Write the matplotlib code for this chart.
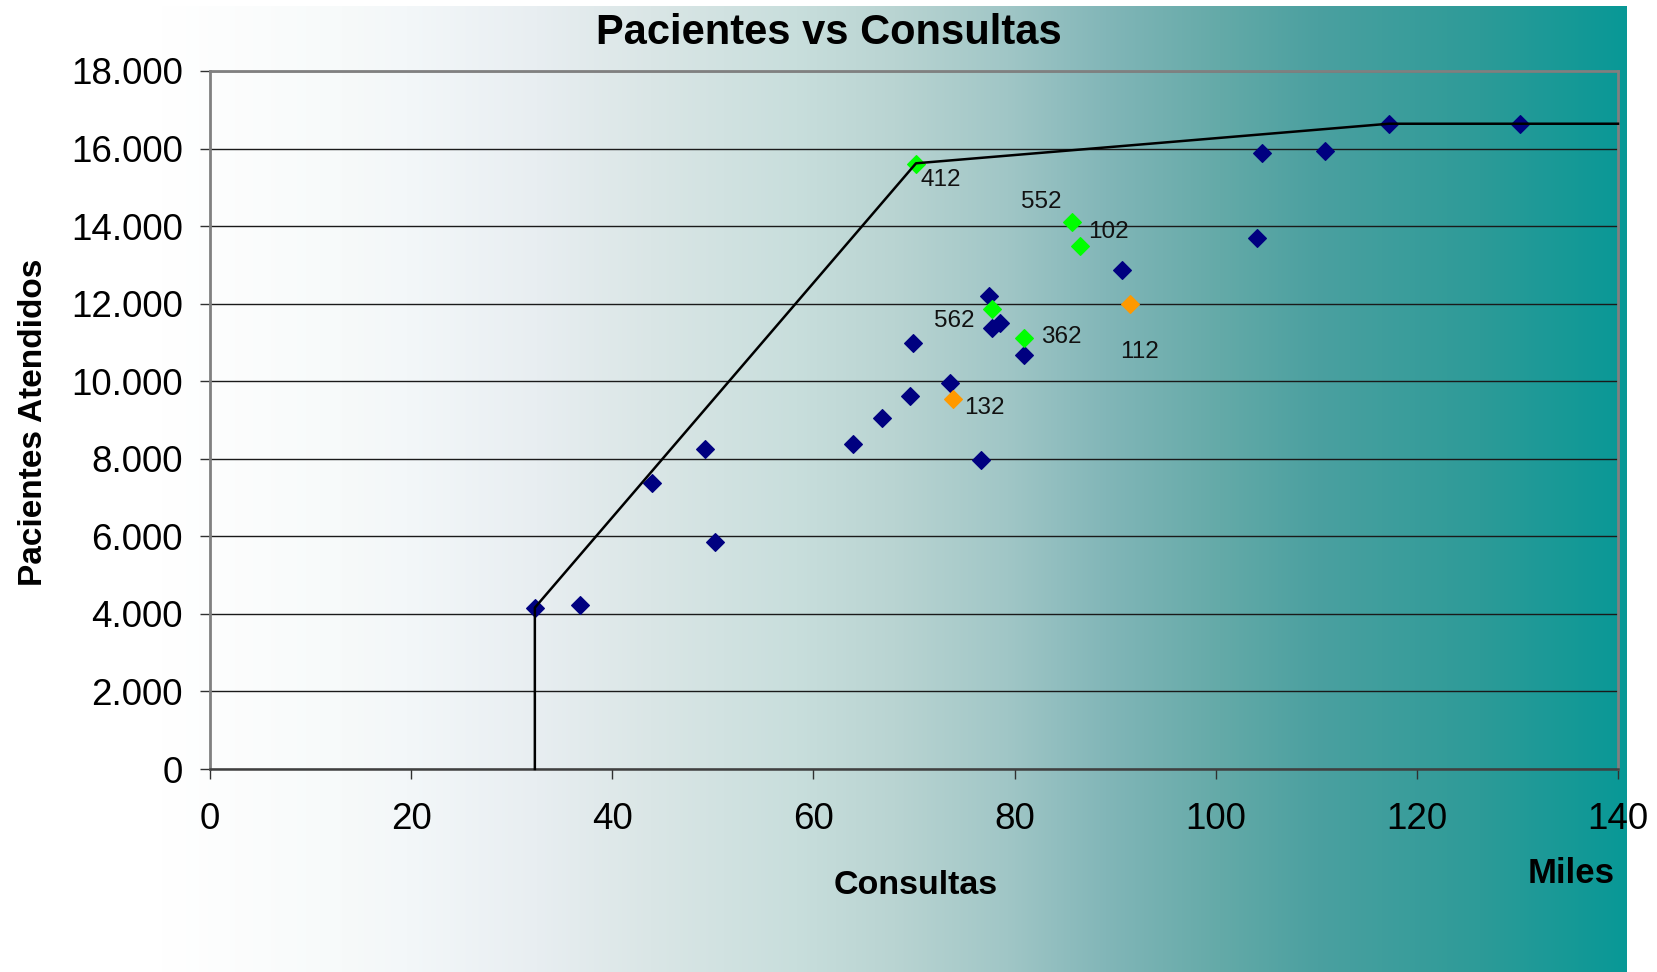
import numpy as np
import matplotlib
matplotlib.use("Agg")
import matplotlib.pyplot as plt
from matplotlib.ticker import FuncFormatter

plt.rcParams['font.family'] = ['Liberation Sans', 'DejaVu Sans']

# Consultas (miles) vs pacientes atendidos per unit
units_x = [32.3, 36.8, 43.9, 49.2, 50.2, 63.9, 66.8, 69.6, 69.9, 73.6, 76.7,
           77.5, 77.8, 78.6, 80.9, 90.7, 104.1, 104.6, 110.9, 117.2, 130.3]
units_y = [4160, 4230, 7370, 8240, 5860, 8380, 9060, 9610, 10980, 9950, 7970,
           12210, 11360, 11510, 10680, 12870, 13690, 15880, 15940, 16630, 16630]

# Highlighted units (green)
green_labels = ['412', '552', '102', '562', '362']
green_x = [70.2, 85.7, 86.5, 77.8, 80.9]
green_y = [15600, 14110, 13490, 11850, 11110]

# Highlighted units (orange)
orange_labels = ['112', '132']
orange_x = [91.5, 73.9]
orange_y = [11990, 9530]

# Efficiency frontier
frontier_x = [32.3, 32.3, 70.2, 117.2, 140.0]
frontier_y = [0, 4160, 15620, 16640, 16640]

x_ticks = [0, 20, 40, 60, 80, 100, 120, 140]
y_ticks = [0, 2000, 4000, 6000, 8000, 10000, 12000, 14000, 16000, 18000]

W, H = 1657, 972
fig = plt.figure(figsize=(W / 100, H / 100), dpi=100)
fig.patch.set_facecolor('white')

# Horizontal gradient background
stops = [
    (0.00, (255, 255, 255)),
    (0.10, (255, 255, 255)),
    (0.21, (247, 250, 250)),
    (0.25, (243, 247, 249)),
    (0.33, (232, 238, 241)),
    (0.40, (218, 230, 230)),
    (0.49, (200, 222, 220)),
    (0.55, (185, 212, 210)),
    (0.62, (160, 198, 198)),
    (0.68, (130, 182, 184)),
    (0.75, (100, 170, 168)),
    (0.81, (75, 160, 160)),
    (0.91, (45, 155, 152)),
    (1.00, (8, 152, 150)),
]
pos = np.array([s[0] for s in stops])
cols = np.array([s[1] for s in stops], dtype=float) / 255.0
t = np.linspace(0, 1, 1200)
grad = np.stack([np.interp(t, pos, cols[:, k]) for k in range(3)], axis=-1)[None, :, :]
bg_right = 1627 / W
bg_top = 1 - 6 / H
bg = fig.add_axes([0, 0, bg_right, bg_top], zorder=0)
bg.imshow(grad, aspect='auto', extent=[0, 1, 0, 1], interpolation='bilinear')
bg.set_axis_off()

# Main plot area
ax_l, ax_r, ax_t, ax_b = 210, 1618, 71, 769
ax = fig.add_axes([ax_l / W, 1 - ax_b / H, (ax_r - ax_l) / W, (ax_b - ax_t) / H], zorder=1)
ax.set_facecolor('none')
ax.set_xlim(0, 140)
ax.set_ylim(0, 18000)
ax.set_xticks(x_ticks)
ax.set_yticks(y_ticks)
ax.yaxis.set_major_formatter(FuncFormatter(lambda v, p: f"{int(v):,}".replace(',', '.')))
ax.grid(axis='y', color='#1a1a1a', linewidth=1.0, zorder=1)
ax.set_axisbelow(True)

for side in ['top', 'right', 'left']:
    ax.spines[side].set_color('#808080')
    ax.spines[side].set_linewidth(2.0)
ax.spines['bottom'].set_color('#404040')
ax.spines['bottom'].set_linewidth(1.8)

ax.tick_params(axis='x', direction='out', length=7.5, width=1.0, color='#303030',
               labelsize=26.5, pad=16)
ax.tick_params(axis='y', direction='out', length=7.5, width=1.0, color='#303030',
               labelsize=26.5, pad=12)

mk = dict(marker='D', linestyle='none', markersize=9, markeredgewidth=0.8)
ax.plot(units_x, units_y, color='#000080', markeredgecolor='#000080', zorder=3, **mk)
ax.plot(green_x, green_y, color='#00ff00', markeredgecolor='#00ff00', zorder=3, **mk)
ax.plot(orange_x, orange_y, color='#ff9900', markeredgecolor='#ff9900', zorder=3, **mk)

ax.plot(frontier_x, frontier_y, color='black', linewidth=1.8, zorder=4, clip_on=False)

label_offsets = {
    '412': (18, -11.5), '552': (-22, 14.6), '102': (20.6, 10.3),
    '562': (-27.6, -8.4), '362': (27.4, 1.2),
    '112': (6.9, -34.8), '132': (22.5, -6.0),
}
for lab, x, y in zip(green_labels + orange_labels, green_x + orange_x, green_y + orange_y):
    ax.annotate(lab, (x, y), xytext=label_offsets[lab], textcoords='offset points',
                ha='center', va='center', fontsize=17.5, color='#111111', zorder=5)

# Titles
fig.text(829 / W, 1 - 44 / H, 'Pacientes vs Consultas', ha='center', va='baseline',
         fontsize=30, fontweight='bold', color='black')
fig.text(916 / W, 1 - 894 / H, 'Consultas', ha='center', va='baseline',
         fontsize=24.5, fontweight='bold', color='black')
fig.text(1571 / W, 1 - 883 / H, 'Miles', ha='center', va='baseline',
         fontsize=25, fontweight='bold', color='black')
fig.text(42.5 / W, 1 - 422.6 / H, 'Pacientes Atendidos', ha='center', va='baseline',
         rotation=90, rotation_mode='anchor', fontsize=24, fontweight='bold', color='black')

fig.savefig('out.png', dpi=100)
